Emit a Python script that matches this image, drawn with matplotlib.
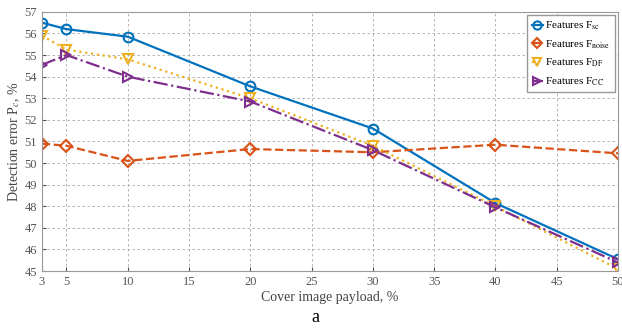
import matplotlib
matplotlib.use("Agg")
import matplotlib.pyplot as plt

payload = [3, 5, 10, 20, 30, 40, 50]
f_sc = [56.5, 56.2, 55.85, 53.55, 51.6, 48.15, 45.55]
f_noise = [50.9, 50.8, 50.1, 50.65, 50.5, 50.85, 50.45]
f_df = [55.9, 55.25, 54.8, 53.0, 50.8, 48.0, 45.1]
f_cc = [54.55, 55.0, 54.0, 52.85, 50.6, 47.95, 45.4]
xticks = [3, 5, 10, 15, 20, 25, 30, 35, 40, 45, 50]

plt.rcParams['font.family'] = ['Liberation Serif', 'DejaVu Serif']
plt.rcParams['mathtext.fontset'] = 'stix'

fig = plt.figure(figsize=(6.22, 3.29), dpi=100)
ax = fig.add_axes([0.0675, 0.176, 0.926, 0.788])

ax.plot(payload, f_sc, '-', color='#0072BD', lw=1.6, marker='o', ms=7,
        mfc='none', mew=1.5, label=r'Features F$_{\mathrm{sc}}$')
ax.plot(payload, f_noise, '--', color='#D95319', lw=1.6, marker='D', ms=6,
        mfc='none', mew=1.5, label=r'Features F$_{\mathrm{noise}}$')
ax.plot(payload, f_df, ':', color='#EDB120', lw=1.6, marker='v', ms=7,
        mfc='none', mew=1.5, label=r'Features F$_{\mathrm{DF}}$')
ax.plot(payload, f_cc, '-.', color='#7E2F8E', lw=1.6, marker='>', ms=7,
        mfc='none', mew=1.5, label=r'Features F$_{\mathrm{CC}}$')

ax.set_xlim(3, 50)
ax.set_ylim(45, 57)
ax.set_xticks(xticks)
ax.set_yticks(range(45, 58))
ax.tick_params(labelsize=9, direction='in', length=3, colors='#555555')
ax.grid(True, ls=(0, (3, 3)), color='#aaaaaa', lw=0.6)
for s in ax.spines.values():
    s.set_color('#999999')

ax.set_xlabel('Cover image payload, %', fontsize=10, color='#444444', labelpad=2)
ax.set_ylabel(r'Detection error P$_{c}$, %', fontsize=10, color='#444444', labelpad=2)

leg = ax.legend(loc='upper right', fontsize=8, handlelength=1.0,
                handletextpad=0.2, borderpad=0.4, labelspacing=0.55,
                markerscale=0.85, fancybox=False, framealpha=1,
                edgecolor='#999999', borderaxespad=0.3)

fig.text(0.507, 0.01, 'a', fontsize=13, ha='center', va='bottom')

fig.savefig('out.png', dpi=100)
